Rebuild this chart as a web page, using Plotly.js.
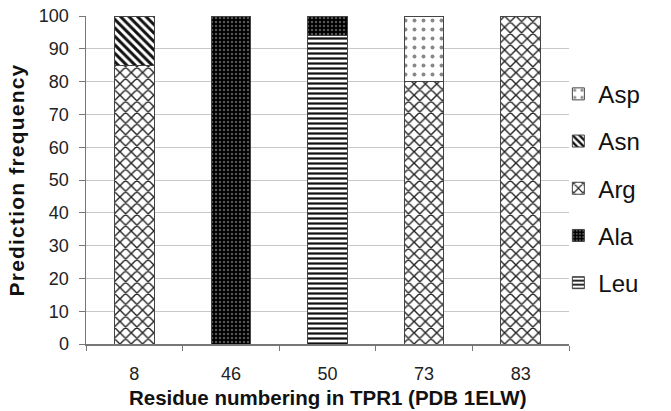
<!DOCTYPE html>
<html>
<head>
<meta charset="utf-8">
<script src="https://cdn.plot.ly/plotly-3.0.1.min.js"></script>
<style>html,body{margin:0;padding:0;background:#fff;}#chart{width:671px;height:411px;}
.ytitle{letter-spacing:1.2px;}</style>
</head>
<body>
<div id="chart"></div>
<script>
var categories = ["8", "46", "50", "73", "83"];
var leu = [null, null, 94, null, null];
var ala = [null, 100, 6, null, null];
var arg = [85, null, null, 80, 100];
var asn = [15, null, null, null, null];
var asp = [null, null, null, 20, null];
var xTitle = "Residue numbering in TPR1 (PDB 1ELW)";
var yTitle = "Prediction frequency";

var FONT = "Liberation Sans, Arial, sans-serif";
var edge = {color: "#444", width: 1};

function mk(name, vals, pattern, rank) {
  return {
    type: "bar", name: name, x: categories, y: vals,
    legendgroup: name, legendrank: rank,
    marker: {color: "#fff", line: edge, pattern: pattern},
    hoverinfo: "x+y+name"
  };
}

var data = [
  mk("Leu", leu, {shape: "-", fgcolor: "#111", bgcolor: "#fff", size: 5, solidity: 0.45}, 5),
  mk("Ala", ala, {shape: ".", fgcolor: "#555", bgcolor: "#000", size: 4, solidity: 0.3}, 4),
  mk("Arg", arg, {shape: "x", fgcolor: "#222", bgcolor: "#fff", size: 8, solidity: 0.32}, 3),
  mk("Asn", asn, {shape: "\\", fgcolor: "#111", bgcolor: "#fff", size: 6, solidity: 0.5}, 2),
  mk("Asp", asp, {shape: ".", fgcolor: "#888", bgcolor: "#fff", size: 9, solidity: 0.15}, 1)
];

var layout = {
  width: 671, height: 411,
  margin: {l: 86, r: 102, t: 16, b: 67},
  paper_bgcolor: "#fff", plot_bgcolor: "#fff",
  barmode: "stack",
  bargap: 0.59,
  showlegend: true,
  font: {family: FONT, color: "#222"},
  legend: {
    x: 0.978, xanchor: "left", y: 0.83, yanchor: "top",
    traceorder: "grouped", tracegroupgap: 13,
    font: {size: 24, family: FONT, color: "#111"},
    bgcolor: "rgba(0,0,0,0)"
  },
  xaxis: {
    type: "category",
    tickson: "boundaries",
    ticks: "outside", ticklen: 5, tickcolor: "#777",
    showline: true, linecolor: "#777", linewidth: 1.5,
    showgrid: false,
    ticklabelstandoff: 13,
    tickfont: {size: 18, family: FONT, color: "#222"},
    title: {text: ""}
  },
  yaxis: {
    range: [0, 100], dtick: 10,
    ticks: "outside", ticklen: 6, tickcolor: "#777",
    showline: true, linecolor: "#777", linewidth: 1.5,
    showgrid: true, gridcolor: "#c8c8c8", gridwidth: 1,
    zeroline: false,
    ticklabelstandoff: 6,
    tickfont: {size: 18, family: FONT, color: "#222"},
    title: {text: "\u00a0\u00a0\u00a0" + yTitle, font: {size: 21, family: FONT, color: "#111", weight: "bold"}, standoff: 8}
  },
  annotations: [{
    text: xTitle, xref: "paper", yref: "paper", x: 0.5, y: -0.162,
    xanchor: "center", yanchor: "middle", showarrow: false,
    font: {size: 20.5, family: FONT, color: "#111", weight: "bold"}
  }]
};

Plotly.newPlot("chart", data, layout, {displayModeBar: false, staticPlot: true});
</script>
</body>
</html>
